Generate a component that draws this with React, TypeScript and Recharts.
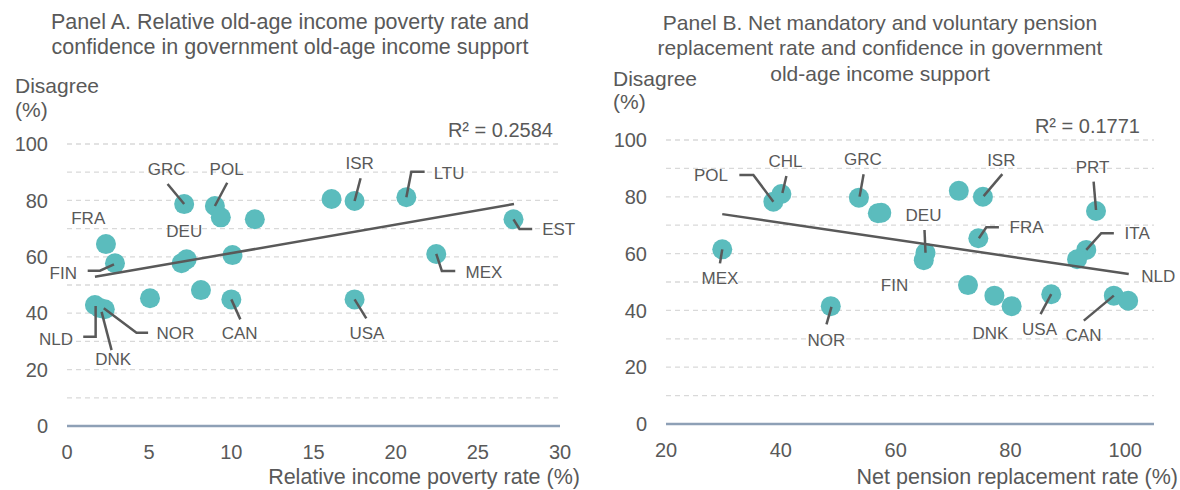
import React from "react";
import { ScatterChart, Scatter, XAxis, YAxis, CartesianGrid } from "recharts";

const FONT = "'Liberation Sans', Arial, Helvetica, sans-serif";
const TEXT = "#595959";
const TEAL = "#5BBCBD";
const AXIS_BLUE = "#8EA0B6";
const GRID = "#D9D9D9";

// ---- Panel A: relative income poverty rate vs disagree ----
const namesA = ["GRC", "POL", "", "", "FRA", "FIN", "DEU", "", "", "", "", "CAN", "NLD", "DNK", "NOR", "", "ISR", "LTU", "EST", "MEX", "USA"];
const povertyA = [7.13, 9.0, 9.36, 11.43, 2.37, 2.92, 7.28, 6.97, 10.07, 8.15, 5.05, 10.0, 1.7, 2.0, 2.3, 16.1, 17.5, 20.65, 27.17, 22.47, 17.5];
const disagreeA = [78.7, 78.0, 74.0, 73.3, 64.5, 57.7, 59.1, 57.7, 60.6, 48.2, 45.3, 44.9, 42.9, 41.8, 41.4, 80.5, 79.8, 81.1, 73.3, 61.0, 44.9];
const trendXA = [1.7, 27.2];
const trendYA = [52.9, 78.7];
const xTicksA = [0, 5, 10, 15, 20, 25, 30];

// ---- Panel B: net pension replacement rate vs disagree ----
const namesB = ["MEX", "POL", "CHL", "GRC", "", "", "NOR", "", "ISR", "DEU", "FIN", "FRA", "PRT", "ITA", "", "", "DNK", "", "USA", "CAN", "NLD"];
const replacementB = [29.8, 38.7, 40.1, 53.6, 56.9, 57.5, 48.7, 71.0, 75.2, 65.2, 64.9, 74.4, 94.9, 93.2, 91.6, 72.6, 77.2, 80.2, 87.1, 98.0, 100.5];
const disagreeB = [61.5, 78.3, 81.0, 79.7, 74.2, 74.4, 41.5, 82.1, 80.0, 60.3, 57.7, 65.4, 75.0, 61.3, 58.0, 48.9, 45.2, 41.5, 45.7, 45.2, 43.4];
const trendXB = [29.8, 100.6];
const trendYB = [73.9, 52.8];
const xTicksB = [20, 40, 60, 80, 100];

const yTicks = [0, 20, 40, 60, 80, 100];
const gridValues = [10, 20, 30, 40, 50, 60, 70, 80, 90, 100];

type Pt = { x: number; y: number; name: string };
type LabelLayout = { dx: number; dy: number; anchor?: "start" | "middle" | "end"; leader?: number[][] };

const toPoints = (names: string[], xs: number[], ys: number[]): Pt[] =>
  xs.map((x, i) => ({ x, y: ys[i], name: names[i] }));

const pointsA = toPoints(namesA, povertyA, disagreeA);
const pointsB = toPoints(namesB, replacementB, disagreeB);
const trendA = toPoints(["", ""], trendXA, trendYA);
const trendB = toPoints(["", ""], trendXB, trendYB);

// label placement relative to the dot centre (pixels)
const layoutA: Record<string, LabelLayout> = {
  GRC: { dx: -17.6, dy: -34.7, leader: [[0, 0], [-16.6, -20]] },
  POL: { dx: 11.7, dy: -36.7, leader: [[0, 0], [12.3, -23.3]] },
  FRA: { dx: -17.7, dy: -26.7 },
  DEU: { dx: -2.4, dy: -28.6 },
  FIN: { dx: -38, dy: 9.4, anchor: "end", leader: [[-1, 1], [-15, 7.4], [-27.3, 7.4]] },
  NLD: { dx: -22, dy: 34.3, anchor: "end", leader: [[0.7, 1], [0.7, 31.7], [-11.7, 31.7]] },
  DNK: { dx: 13.3, dy: 50.3, leader: [[1.7, 3.7], [11.7, 42]] },
  NOR: { dx: 51.7, dy: 23.4, anchor: "start", leader: [[-1, -1], [31.7, 23.4], [43.3, 23.4]] },
  CAN: { dx: 8.3, dy: 33.4, leader: [[0, 0], [9, 20]] },
  ISR: { dx: 5, dy: -37.7, leader: [[0, 0], [6, -22.7]] },
  LTU: { dx: 27.3, dy: -24.6, anchor: "start", leader: [[0, 0], [5, -25.6], [18.3, -25.6]] },
  EST: { dx: 28.7, dy: 9.7, anchor: "start", leader: [[0, 0], [6, 9.7], [18.7, 9.7]] },
  MEX: { dx: 29.3, dy: 18.3, anchor: "start", leader: [[0, 0], [5.6, 17], [19, 17]] },
  USA: { dx: 12.3, dy: 33, leader: [[0, 0], [11.7, 19]] },
};

const layoutB: Record<string, LabelLayout> = {
  POL: { dx: -45.3, dy: -26.7, anchor: "end", leader: [[0, 0], [-20, -26.7], [-34, -26.7]] },
  CHL: { dx: 4, dy: -33.3, leader: [[1, -1], [5, -18]] },
  GRC: { dx: 4, dy: -38.4, leader: [[0.7, -1], [4.7, -23.4]] },
  MEX: { dx: -2.3, dy: 29, leader: [[0, 0], [-2.3, 14]] },
  NOR: { dx: -4.3, dy: 34, leader: [[0.7, 0.7], [-4.3, 18.3]] },
  FIN: { dx: -29.3, dy: 25 },
  DEU: { dx: -2, dy: -37.7, leader: [[0, 0], [-1, -22.7]] },
  ISR: { dx: 18.4, dy: -36.7, leader: [[0.7, -0.7], [19.4, -22.7]] },
  FRA: { dx: 31.3, dy: -11, anchor: "start", leader: [[0.6, 0], [8, -11], [20.6, -11]] },
  PRT: { dx: -3.4, dy: -44.3, leader: [[0, -1], [-2.4, -29.3]] },
  ITA: { dx: 38.3, dy: -16.7, anchor: "start", leader: [[0, 0], [15, -16.7], [27.6, -16.7]] },
  NLD: { dx: 13, dy: -25, anchor: "start" },
  DNK: { dx: -4, dy: 37 },
  USA: { dx: -11.7, dy: 35, leader: [[0, 0], [-10.7, 20]] },
  CAN: { dx: -30.3, dy: 39.3, leader: [[0, 0], [-30, 25]] },
};

const Dot = (props: any) => <circle cx={props.cx} cy={props.cy} r={10} fill={TEAL} />;
const Nothing = () => <g />;

const makeLabel = (layout: Record<string, LabelLayout>) => (props: any) => {
  const { cx, cy, payload } = props;
  const l = layout[payload?.name];
  if (!l) return <g />;
  const d = l.leader
    ? l.leader.map((p, i) => `${i === 0 ? "M" : "L"}${cx + p[0]},${cy + p[1]}`).join(" ")
    : null;
  return (
    <g>
      {d && <path d={d} fill="none" stroke={TEXT} strokeWidth={2.5} />}
      <text
        x={cx + l.dx}
        y={cy + l.dy}
        dy="0.36em"
        textAnchor={l.anchor || "middle"}
        fill={TEXT}
        fontSize={17}
        fontFamily={FONT}
      >
        {payload.name}
      </text>
    </g>
  );
};

const tickStyle = { fill: TEXT, fontSize: 20, fontFamily: FONT };

function Panel(props: {
  points: Pt[];
  trend: Pt[];
  layout: Record<string, LabelLayout>;
  xDomain: [number, number];
  xTicks: number[];
  top: number;
  right: number;
  yWidth: number;
  xHeight: number;
}) {
  const { points, trend, layout, xDomain, xTicks, top, right, yWidth, xHeight } = props;
  const labelled = points.filter((p) => layout[p.name]);
  return (
    <ScatterChart width={590} height={490} margin={{ top, right, bottom: 0, left: 0 }} style={{ overflow: "visible" }}>
      <CartesianGrid
        vertical={false}
        horizontalValues={gridValues}
        stroke={GRID}
        strokeWidth={1.3}
        strokeDasharray="5 4"
      />
      <XAxis
        type="number"
        dataKey="x"
        domain={xDomain}
        ticks={xTicks}
        height={xHeight}
        tickLine={false}
        tickSize={0}
        tickMargin={19}
        axisLine={{ stroke: AXIS_BLUE, strokeWidth: 2.5 }}
        tick={tickStyle}
      />
      <YAxis
        type="number"
        dataKey="y"
        domain={[0, 100]}
        ticks={yTicks}
        width={yWidth}
        axisLine={false}
        tickLine={false}
        tickSize={0}
        tickMargin={19}
        tick={tickStyle}
      />
      <Scatter data={points} shape={Dot} isAnimationActive={false} />
      <Scatter
        data={trend}
        shape={Nothing}
        line={{ stroke: TEXT, strokeWidth: 2.5 }}
        isAnimationActive={false}
      />
      <Scatter data={labelled} shape={makeLabel(layout)} isAnimationActive={false} />
    </ScatterChart>
  );
}

const abs = (s: React.CSSProperties): React.CSSProperties => ({
  position: "absolute",
  color: TEXT,
  fontFamily: FONT,
  whiteSpace: "nowrap",
  ...s,
});

export default function App() {
  return (
    <div style={{ position: "fixed", left: 0, top: 0, width: 1180, height: 490, background: "#fff", overflow: "hidden" }}>
      <div style={{ position: "absolute", left: 0, top: 0 }}>
        <Panel
          points={pointsA}
          trend={trendA}
          layout={layoutA}
          xDomain={[0, 30]}
          xTicks={xTicksA}
          top={144}
          right={30}
          yWidth={67}
          xHeight={64}
        />
      </div>
      <div style={{ position: "absolute", left: 590, top: 0 }}>
        <Panel
          points={pointsB}
          trend={trendB}
          layout={layoutB}
          xDomain={[20, 105]}
          xTicks={xTicksB}
          top={140}
          right={26}
          yWidth={76}
          xHeight={66}
        />
      </div>

      <div style={abs({ left: 0, width: 580, top: 9.5, textAlign: "center", fontSize: 21.5, lineHeight: "25px" })}>
        Panel A. Relative old-age income poverty rate and
        <br />
        confidence in government old-age income support
      </div>
      <div style={abs({ left: 590, width: 580, top: 9.5, textAlign: "center", fontSize: 21, lineHeight: "25.5px" })}>
        Panel B. Net mandatory and voluntary pension
        <br />
        replacement rate and confidence in government
        <br />
        old-age income support
      </div>

      <div style={abs({ left: 15, top: 74, fontSize: 21, lineHeight: "24px" })}>
        Disagree
        <br />
        (%)
      </div>
      <div style={abs({ left: 613, top: 66.5, fontSize: 21, lineHeight: "23px" })}>
        Disagree
        <br />
        (%)
      </div>

      <div style={abs({ right: 627, top: 118.5, fontSize: 20, lineHeight: "22px" })}>R² = 0.2584</div>
      <div style={abs({ right: 40, top: 114.5, fontSize: 20, lineHeight: "22px" })}>R² = 0.1771</div>

      <div style={abs({ right: 600, top: 465, fontSize: 21.5, lineHeight: "24px" })}>
        Relative income poverty rate (%)
      </div>
      <div style={abs({ right: 2, top: 465, fontSize: 21.5, lineHeight: "24px" })}>
        Net pension replacement rate (%)
      </div>
    </div>
  );
}
